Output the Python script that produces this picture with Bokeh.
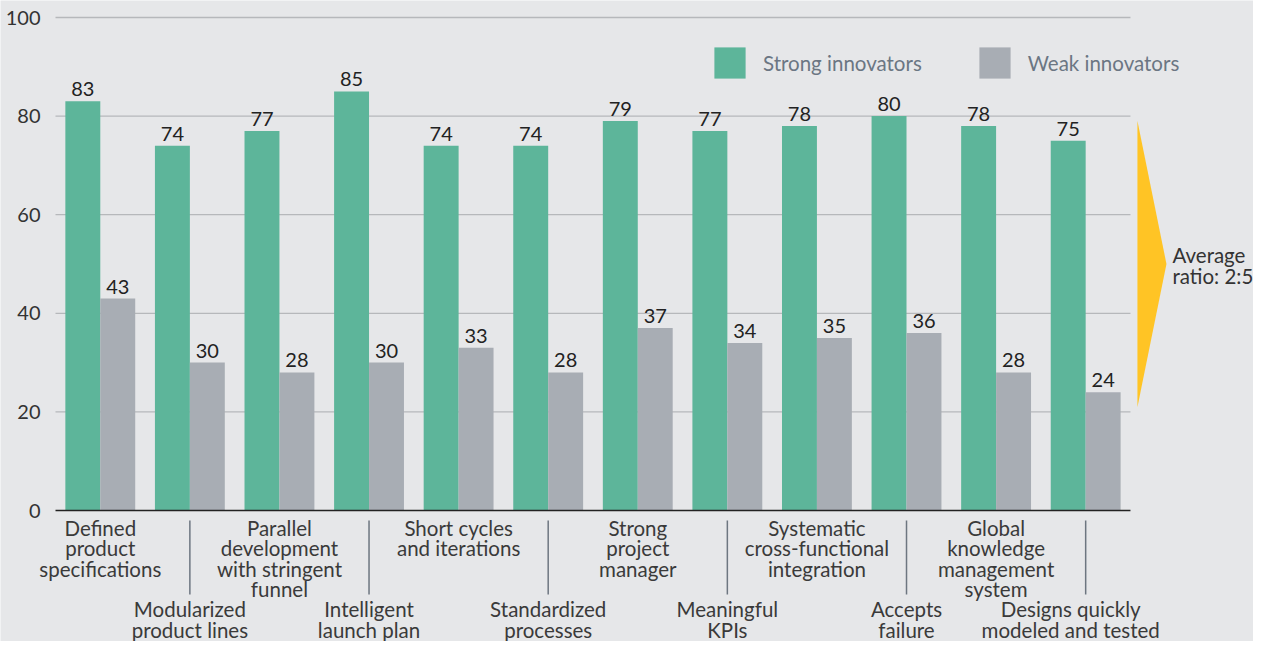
from bokeh.plotting import figure
from bokeh.models import ColumnDataSource, Legend, LegendItem, Range1d
from bokeh.core.properties import value
from bokeh.embed import file_html
from bokeh.resources import INLINE

# ---------------- data ----------------
categories = [
    "Defined\nproduct\nspecifications",
    "Modularized\nproduct lines",
    "Parallel\ndevelopment\nwith stringent\nfunnel",
    "Intelligent\nlaunch plan",
    "Short cycles\nand iterations",
    "Standardized\nprocesses",
    "Strong\nproject\nmanager",
    "Meaningful\nKPIs",
    "Systematic\ncross-functional\nintegration",
    "Accepts\nfailure",
    "Global\nknowledge\nmanagement\nsystem",
    "Designs quickly\nmodeled and tested",
]
strong = [83, 74, 77, 85, 74, 74, 79, 77, 78, 80, 78, 75]
weak = [43, 30, 28, 30, 33, 28, 37, 34, 35, 36, 28, 24]
y_ticks = [0, 20, 40, 60, 80, 100]
series_names = ["Strong innovators", "Weak innovators"]
note_lines = ["Average", "ratio: 2:5"]
arrow_range = [21, 79, 50]  # bottom, top, tip (value axis)

# ---------------- style ----------------
FONT = "Lato"
FS = "20.5px"
FS_NUM = "20px"
BG = "#E6E7E9"
GREEN = "#5DB59A"
GRAY = "#A8ADB4"
YELLOW = "#FFC425"
LEG_TXT = "#6b7683"

W, H = 1253, 641
PX_CAT = 89.58
PX_UNIT = 4.93
PLOT_LEFT = 55          # pixel where category area starts
Y_TOP_PX = 17           # pixel of value 100
label_dx = {11: -15}    # horizontal nudges of some category labels (px)

n = len(categories)
x_start = -0.5 - PLOT_LEFT / PX_CAT
x_end = -0.5 + (W - PLOT_LEFT) / PX_CAT
y_end = 100 + Y_TOP_PX / PX_UNIT
y_start = 100 - (H - Y_TOP_PX) / PX_UNIT

p = figure(width=W, height=H, output_backend="svg", toolbar_location=None,
           x_range=Range1d(x_start, x_end), y_range=Range1d(y_start, y_end),
           min_border=0)
p.background_fill_color = BG
p.border_fill_color = BG
p.outline_line_color = None
p.xaxis.visible = False
p.yaxis.visible = False
p.xgrid.visible = False
p.ygrid.visible = False

idx = list(range(n))
half = 0.195
bw = 0.39

# gridlines
grid_y = [t for t in y_ticks if t > 0]
p.segment(x0=[-0.5] * len(grid_y), x1=[n - 0.5] * len(grid_y), y0=grid_y, y1=grid_y,
          line_color="#B6B8BB", line_width=1.3)

# y tick labels
p.text(x=[-0.5] * len(y_ticks), y=y_ticks, text=[str(t) for t in y_ticks],
       x_offset=-15, y_offset=0, text_align="right", text_baseline="middle",
       text_font=value(FONT), text_font_size=FS_NUM, text_color="#333333")

src = ColumnDataSource(dict(
    xs=[i - half for i in idx], xw=[i + half for i in idx],
    strong=strong, weak=weak,
    ts=[str(v) for v in strong], tw=[str(v) for v in weak],
))
r1 = p.vbar(x="xs", top="strong", bottom=0, width=bw, source=src,
            fill_color=GREEN, line_color=None)
r2 = p.vbar(x="xw", top="weak", bottom=0, width=bw, source=src,
            fill_color=GRAY, line_color=None)

# baseline
p.segment(x0=[-0.5], x1=[n - 0.5], y0=[0], y1=[0], line_color="#222222", line_width=1.6)

# value labels
for xcol, ycol, tcol in (("xs", "strong", "ts"), ("xw", "weak", "tw")):
    p.text(x=xcol, y=ycol, text=tcol, source=src, text_align="center",
           text_baseline="middle", y_offset=-12, text_font=value(FONT),
           text_font_size=FS_NUM, text_color="#222222")

# category labels (alternating rows)
lx, lt, lo, ldx = [], [], [], []
LINE = 20.6
for i, lab in enumerate(categories):
    base = 17 if i % 2 == 0 else 98.5
    for j, line in enumerate(lab.split("\n")):
        lx.append(i)
        lt.append(line)
        lo.append(base + j * LINE)
        ldx.append(label_dx.get(i, 0))
lsrc = ColumnDataSource(dict(x=lx, y=[0] * len(lx), t=lt, o=lo, dx=ldx))
p.text(x="x", y="y", text="t", y_offset="o", x_offset="dx", source=lsrc,
       text_align="center", text_baseline="middle", text_font=value(FONT),
       text_font_size=FS, text_color="#3a3a3a")

# separators for lower-row labels
sep_x = [i for i in idx if i % 2 == 1]
p.segment(x0=sep_x, x1=sep_x, y0=[-10 / PX_UNIT] * len(sep_x),
          y1=[-84 / PX_UNIT] * len(sep_x), line_color="#6d7680", line_width=1.5)

# arrow
ax0 = n - 0.5 + 7 / PX_CAT
ax1 = n - 0.5 + 36 / PX_CAT
p.patch(x=[ax0, ax0, ax1], y=[arrow_range[0], arrow_range[1], arrow_range[2]],
        fill_color=YELLOW, line_color=None)
tx = n - 0.5 + 42 / PX_CAT
p.text(x=[tx, tx], y=[arrow_range[2]] * 2, text=note_lines, y_offset=[-9.5, 12],
       text_align="left", text_baseline="middle", text_font=value(FONT),
       text_font_size=FS, text_color="#333333")

# legend
legend = Legend(items=[LegendItem(label=series_names[0], renderers=[r1]),
                       LegendItem(label=series_names[1], renderers=[r2])],
                orientation="horizontal", location=(710, H - 82),
                glyph_width=39, glyph_height=39, label_standoff=14, spacing=53,
                padding=0, margin=0, border_line_color=None,
                background_fill_alpha=0, label_text_font=FONT,
                label_text_font_size=FS, label_text_color=LEG_TXT)
p.add_layout(legend, "center")

open("out.html", "w").write(file_html(p, INLINE))
